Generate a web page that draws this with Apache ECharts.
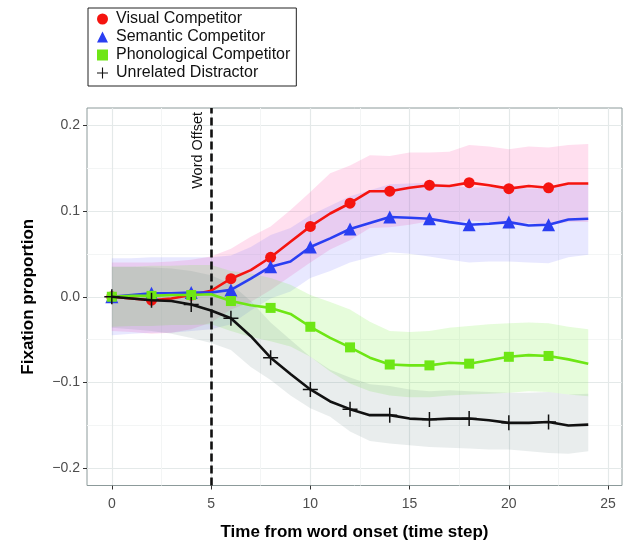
<!DOCTYPE html>
<html>
<head>
<meta charset="utf-8">
<script src="https://cdn.jsdelivr.net/npm/echarts@6/dist/echarts.min.js"></script>
<style>
  html, body { margin: 0; padding: 0; background: #fff; }
  #chart { width: 624px; height: 540px; }
</style>
</head>
<body>
<div id="chart"></div>
<script>
const steps = [0, 1, 2, 3, 4, 5, 6, 7, 8, 9, 10, 11, 12, 13, 14, 15, 16, 17, 18, 19, 20, 21, 22, 23, 24]
const markerSteps = [0, 2, 4, 6, 8, 10, 12, 14, 16, 18, 20, 22]
const xTicks = [0, 5, 10, 15, 20, 25]
const xMinorTicks = [2.5, 7.5, 12.5, 17.5, 22.5]
const yTicks = [-0.2, -0.1, 0, 0.1, 0.2]
const yMinorTicks = [-0.15, -0.05, 0.05, 0.15]
const wordOffset = 5

const visual = [0.000, -0.002, -0.004, -0.002, 0.002, 0.007, 0.021, 0.031, 0.046, 0.064, 0.082, 0.097, 0.109, 0.123, 0.123, 0.127, 0.130, 0.129, 0.133, 0.130, 0.126, 0.129, 0.127, 0.132, 0.132]
const visualHi = [0.040, 0.040, 0.040, 0.041, 0.043, 0.047, 0.056, 0.070, 0.082, 0.101, 0.122, 0.144, 0.153, 0.165, 0.164, 0.168, 0.168, 0.169, 0.177, 0.175, 0.172, 0.175, 0.174, 0.177, 0.178]
const visualLo = [-0.040, -0.041, -0.043, -0.042, -0.038, -0.030, -0.015, -0.006, 0.008, 0.024, 0.040, 0.055, 0.066, 0.080, 0.081, 0.084, 0.088, 0.086, 0.089, 0.087, 0.083, 0.086, 0.083, 0.087, 0.087]

const semantic = [0.000, 0.002, 0.004, 0.004, 0.005, 0.005, 0.008, 0.021, 0.035, 0.041, 0.058, 0.068, 0.079, 0.086, 0.093, 0.092, 0.091, 0.087, 0.084, 0.085, 0.087, 0.083, 0.084, 0.090, 0.091]
const semanticHi = [0.045, 0.045, 0.046, 0.046, 0.046, 0.046, 0.048, 0.058, 0.072, 0.080, 0.095, 0.106, 0.117, 0.124, 0.131, 0.132, 0.133, 0.130, 0.127, 0.128, 0.130, 0.126, 0.127, 0.131, 0.132]
const semanticLo = [-0.045, -0.043, -0.042, -0.042, -0.040, -0.038, -0.032, -0.016, -0.002, 0.006, 0.022, 0.030, 0.040, 0.046, 0.052, 0.050, 0.047, 0.043, 0.040, 0.041, 0.041, 0.040, 0.039, 0.046, 0.049]

const phonological = [0.000, 0.001, 0.001, 0.002, 0.002, 0.003, -0.005, -0.010, -0.013, -0.020, -0.035, -0.048, -0.059, -0.071, -0.079, -0.080, -0.080, -0.077, -0.078, -0.074, -0.070, -0.068, -0.069, -0.073, -0.078]
const phonologicalHi = [0.035, 0.035, 0.036, 0.036, 0.037, 0.037, 0.030, 0.027, 0.022, 0.014, 0.002, -0.006, -0.015, -0.029, -0.040, -0.041, -0.040, -0.036, -0.034, -0.032, -0.031, -0.030, -0.031, -0.035, -0.038]
const phonologicalLo = [-0.035, -0.034, -0.034, -0.033, -0.033, -0.032, -0.040, -0.047, -0.052, -0.058, -0.070, -0.087, -0.101, -0.110, -0.115, -0.117, -0.117, -0.115, -0.114, -0.113, -0.112, -0.110, -0.111, -0.114, -0.116]

const unrelated = [0.000, -0.002, -0.004, -0.005, -0.009, -0.016, -0.025, -0.046, -0.071, -0.090, -0.108, -0.122, -0.131, -0.138, -0.138, -0.142, -0.143, -0.142, -0.142, -0.144, -0.147, -0.147, -0.146, -0.150, -0.149]
const unrelatedHi = [0.035, 0.035, 0.034, 0.033, 0.030, 0.025, 0.015, -0.005, -0.030, -0.050, -0.070, -0.085, -0.094, -0.102, -0.104, -0.108, -0.110, -0.109, -0.110, -0.111, -0.112, -0.112, -0.111, -0.114, -0.113]
const unrelatedLo = [-0.036, -0.038, -0.040, -0.043, -0.048, -0.054, -0.062, -0.082, -0.097, -0.115, -0.130, -0.140, -0.157, -0.168, -0.171, -0.173, -0.175, -0.176, -0.177, -0.178, -0.178, -0.180, -0.182, -0.183, -0.180]

const plusPath = 'path://M0,6.3H6.3V0H7.7V6.3H14V7.7H7.7V14H6.3V7.7H0Z'

const groups = [
  { name: 'Visual Competitor', line: visual, hi: visualHi, lo: visualLo, color: '#f5140f', fill: 'rgba(255,105,180,0.21)', symbol: 'circle', size: 11 },
  { name: 'Semantic Competitor', line: semantic, hi: semanticHi, lo: semanticLo, color: '#2a3ef2', fill: 'rgba(100,100,255,0.15)', symbol: 'triangle', size: 13 },
  { name: 'Phonological Competitor', line: phonological, hi: phonologicalHi, lo: phonologicalLo, color: '#6ee615', fill: 'rgba(120,240,60,0.185)', symbol: 'rect', size: 10 },
  { name: 'Unrelated Distractor', line: unrelated, hi: unrelatedHi, lo: unrelatedLo, color: '#111111', fill: 'rgba(100,130,130,0.14)', symbol: plusPath, size: 15 },
]

const font = 'Liberation Sans, Arial, sans-serif'

function fmtY(v) {
  if (v === 0) return '0.0'
  return v < 0 ? '\u2212' + Math.abs(v).toFixed(1) : v.toFixed(1)
}

const bandSeries = groups.map((g) => ({
  type: 'custom',
  name: g.name + ' band',
  z: 1,
  silent: true,
  data: [[0, 0]],
  renderItem: (params, api) => {
    const top = steps.map((x, i) => api.coord([x, g.hi[i]]))
    const bottom = steps.map((x, i) => api.coord([x, g.lo[i]])).reverse()
    return {
      type: 'polygon',
      shape: { points: top.concat(bottom) },
      style: { fill: g.fill, stroke: null },
    }
  },
}))

const lineSeries = groups.map((g, gi) => ({
  type: 'line',
  name: g.name,
  z: 5 + gi,
  data: steps.map((x, i) => [x, g.line[i]]),
  symbol: g.symbol,
  showAllSymbol: true,
  symbolSize: (val) => (markerSteps.includes(val[0]) ? g.size : 0),
  itemStyle: { color: g.color },
  lineStyle: { color: g.color, width: 2.6 },
  emphasis: { disabled: true },
  markLine: gi === 3 ? {
    silent: true,
    symbol: 'none',
    lineStyle: { color: '#111', width: 2.6, type: [8, 4] },
    label: {
      show: true,
      formatter: 'Word Offset',
      position: 'insideEndTop',
      distance: [4, 6],
      color: '#111',
      fontFamily: font,
      fontSize: 14.5,
    },
    data: [{ xAxis: wordOffset }],
  } : undefined,
}))

const chart = echarts.init(document.getElementById('chart'), null, { renderer: 'canvas' })
chart.setOption({
  animation: false,
  backgroundColor: '#fff',
  textStyle: { fontFamily: font },
  grid: {
    left: 87, right: 2, top: 108, bottom: 54.5,
    outerBoundsMode: 'none',
    containLabel: false,
    show: true, borderColor: '#8c9a9a', borderWidth: 1, backgroundColor: 'transparent',
  },
  legend: {
    left: 88, top: 8,
    orient: 'vertical',
    padding: [3, 6, 5, 9],
    itemGap: 2,
    itemWidth: 11,
    itemHeight: 11,
    borderColor: '#222',
    borderWidth: 1,
    textStyle: { color: '#111', fontSize: 16, lineHeight: 16, fontFamily: font, padding: [0, 0, 0, 3] },
    data: groups.map((g) => ({ name: g.name, icon: g.symbol, itemStyle: { color: g.color } })),
  },
  xAxis: [
    {
      type: 'value', min: -1.25, max: 25.7,
      name: 'Time from word onset (time step)',
      nameLocation: 'middle', nameGap: 38,
      nameTextStyle: { color: '#000', fontSize: 17, fontWeight: 'bold', fontFamily: font },
      axisLine: { show: false, onZero: false },
      axisTick: { show: true, length: 4, lineStyle: { color: '#333' }, customValues: xTicks },
      axisLabel: { color: '#4d4d4d', fontSize: 14, margin: 12, customValues: xTicks },
      splitLine: { show: true, lineStyle: { color: '#e4e9e9', width: 1.2 } },
    },
    {
      type: 'value', min: -1.25, max: 25.7, position: 'bottom',
      axisLine: { show: false, onZero: false },
      axisTick: { show: false, customValues: xMinorTicks },
      axisLabel: { show: false },
      splitLine: { show: true, lineStyle: { color: '#f3f5f5', width: 1 } },
    },
  ],
  yAxis: [
    {
      type: 'value', min: -0.22, max: 0.22,
      name: 'Fixation proportion',
      nameLocation: 'middle', nameGap: 50,
      nameTextStyle: { color: '#000', fontSize: 17, fontWeight: 'bold', fontFamily: font },
      axisLine: { show: false, onZero: false },
      axisTick: { show: true, length: 4, lineStyle: { color: '#333' }, customValues: yTicks },
      axisLabel: { color: '#4d4d4d', fontSize: 14, margin: 7, customValues: yTicks, formatter: fmtY },
      splitLine: { show: true, lineStyle: { color: '#e4e9e9', width: 1.2 } },
    },
    {
      type: 'value', min: -0.22, max: 0.22, position: 'left',
      axisLine: { show: false, onZero: false },
      axisTick: { show: false, customValues: yMinorTicks },
      axisLabel: { show: false },
      splitLine: { show: true, lineStyle: { color: '#f3f5f5', width: 1 } },
    },
  ],
  series: bandSeries.concat(lineSeries),
})
</script>
</body>
</html>
